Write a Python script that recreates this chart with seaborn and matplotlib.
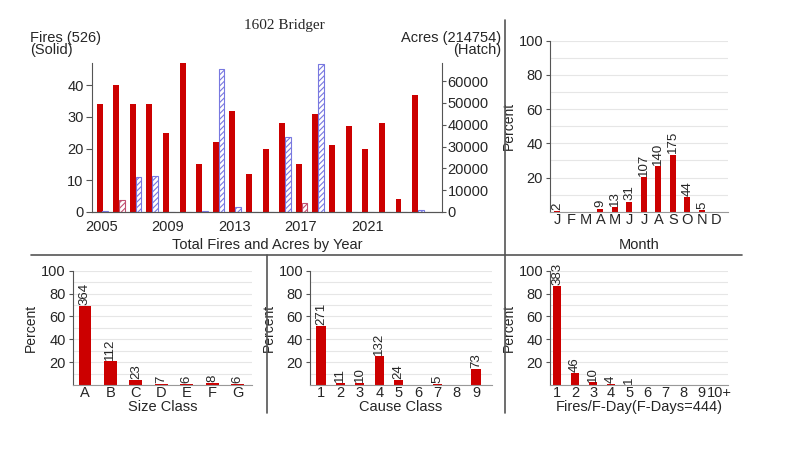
import numpy as np
import pandas as pd
import matplotlib.pyplot as plt
import seaborn as sns
from matplotlib.lines import Line2D
from matplotlib.ticker import MultipleLocator

# data
years = list(range(2005, 2025))
fires = [34, 40, 34, 34, 25, 47, 15, 22, 32, 12, 20, 28, 15, 31, 21, 27, 20, 28, 4, 37]
acres = [300, 5500, 16000, 16500, 200, 100, 300, 65700, 2300, 0,
         0, 34500, 4100, 68000, 0, 0, 200, 0, 0, 800]
year_labels = [2005, 2009, 2013, 2017, 2021]

months = ['Jan', 'Feb', 'Mar', 'Apr', 'May', 'Jun', 'Jul', 'Aug', 'Sep', 'Oct', 'Nov', 'Dec']
month_letters = ['J', 'F', 'M', 'A', 'M', 'J', 'J', 'A', 'S', 'O', 'N', 'D']
month_counts = [2, 0, 0, 9, 13, 31, 107, 140, 175, 44, 5, 0]

size_classes = ['A', 'B', 'C', 'D', 'E', 'F', 'G']
size_counts = [364, 112, 23, 7, 6, 8, 6]

cause_classes = ['1', '2', '3', '4', '5', '6', '7', '8', '9']
cause_counts = [271, 11, 10, 132, 24, 0, 5, 0, 73]

fday_bins = ['1', '2', '3', '4', '5', '6', '7', '8', '9', '10+']
fday_counts = [383, 46, 10, 4, 1, 0, 0, 0, 0, 0]

RED = '#CC0000'
GREY = '#555555'

sns.set_style('white')
plt.rcParams['font.family'] = ['Liberation Sans', 'DejaVu Sans']
plt.rcParams['hatch.linewidth'] = 0.8

fig = plt.figure(figsize=(8, 4.73), dpi=100)

# ---- Total fires and acres by year (dual axis)
ax1 = fig.add_axes([0.115, 0.5518, 0.4375, 0.315])
ax1b = ax1.twinx()
yrs = np.array(years)
ax1.bar(yrs - 0.12, fires, width=0.36, color=RED, linewidth=0)
hatch_cols = ['#C05070' if y in (2006, 2017) else '#7878E0' for y in years]
ax1b.bar(yrs + 0.22, acres, width=0.34, facecolor='white', edgecolor=hatch_cols,
         hatch='//////', linewidth=0.8)
ax1.set_xlim(2004.42, 2025.5)
ax1.set_ylim(0, 47)
ax1b.set_ylim(0, 68300)
ax1.set_yticks([0, 10, 20, 30, 40])
ax1b.set_yticks(range(0, 60001, 10000))
ax1.set_xticks(year_labels)
ax1.set_xticks(yrs + 0.6, minor=True)
ax1.tick_params(axis='x', which='major', length=0, pad=6, labelsize=10.5)
ax1.tick_params(axis='x', which='minor', length=4, color=GREY, direction='out')
ax1.tick_params(axis='y', length=4, pad=2, labelsize=10.5, color=GREY, left=True)
ax1b.tick_params(axis='y', length=3, pad=1, labelsize=10.5, color=GREY, right=True)
for a in (ax1, ax1b):
    a.spines['top'].set_visible(False)
    for s in ('left', 'right', 'bottom'):
        a.spines[s].set_color(GREY)
        a.spines[s].set_linewidth(0.8)
ax1.spines['right'].set_visible(False)
ax1b.spines['left'].set_visible(False)
ax1.set_xlabel('Total Fires and Acres by Year', fontsize=10.5, labelpad=3)

fig.text(0.0375, 0.935, 'Fires (526)\n(Solid)', va='top', ha='left',
         fontsize=10.5, linespacing=0.85)
fig.text(0.626, 0.935, 'Acres (214754)\n(Hatch)', va='top', ha='right',
         multialignment='right', fontsize=10.5, linespacing=0.85)
fig.text(0.356, 0.947, '1602 Bridger', ha='center', va='center',
         family='Liberation Serif', fontsize=11)


# ---- percent panels
def pct_panel(rect, cats, counts, ticklabels, xlabel, width, xlim, labelpad):
    ax = fig.add_axes(rect)
    pct = np.array(counts) / sum(counts) * 100
    df = pd.DataFrame({'cat': cats, 'pct': pct})
    sns.barplot(data=df, x='cat', y='pct', order=cats, color=RED, saturation=1,
                width=width, linewidth=0, ax=ax)
    for i, (c, p) in enumerate(zip(counts, pct)):
        if c > 0:
            ax.text(i, p + 0.8, str(c), rotation=90, ha='center', va='bottom',
                    fontsize=9.5)
    ax.set_xlim(*xlim)
    ax.set_ylim(0, 100)
    ax.set_yticks([20, 40, 60, 80, 100])
    ax.yaxis.set_minor_locator(MultipleLocator(10))
    ax.grid(axis='y', which='both', color='#E6E6E6', linewidth=0.8)
    ax.set_axisbelow(True)
    ax.set_xticks(range(len(cats)))
    ax.set_xticklabels(ticklabels)
    ax.tick_params(axis='x', length=0, pad=1, labelsize=10.5)
    ax.tick_params(axis='y', which='major', length=3, pad=2, labelsize=10.5,
                   left=True, color=GREY)
    ax.tick_params(axis='y', which='minor', length=0)
    for s in ('top', 'right'):
        ax.spines[s].set_visible(False)
    ax.spines['left'].set_color(GREY)
    ax.spines['left'].set_linewidth(0.8)
    ax.spines['bottom'].set_color('#999999')
    ax.spines['bottom'].set_linewidth(0.8)
    ax.set_ylabel('Percent', fontsize=10, labelpad=2)
    ax.set_xlabel(xlabel, fontsize=10.5, labelpad=labelpad)
    return ax


pct_panel([0.6875, 0.5524, 0.2225, 0.3615], months, month_counts, month_letters,
          'Month', 0.42, (-0.48, 11.8), 8)
pct_panel([0.0909, 0.186, 0.224, 0.2417], size_classes, size_counts, size_classes,
          'Size Class', 0.5, (-0.48, 6.56), 0)
pct_panel([0.3875, 0.186, 0.227, 0.2417], cause_classes, cause_counts, cause_classes,
          'Cause Class', 0.48, (-0.57, 8.8), 0)
pct_panel([0.6875, 0.186, 0.2225, 0.2417], fday_bins, fday_counts, fday_bins,
          'Fires/F-Day(F-Days=444)', 0.46, (-0.4, 9.5), 0)

# ---- panel dividers
def fig_line(x0, y0, x1, y1):
    fig.add_artist(Line2D([x0 / 800, x1 / 800], [1 - y0 / 473, 1 - y1 / 473],
                          color=GREY, linewidth=1.2))


fig_line(505, 20, 505, 255)
fig_line(31, 255, 742, 255)
fig_line(267, 255, 267, 413)
fig_line(505, 255, 505, 413)

fig.savefig('out.png', dpi=100, facecolor='white')
